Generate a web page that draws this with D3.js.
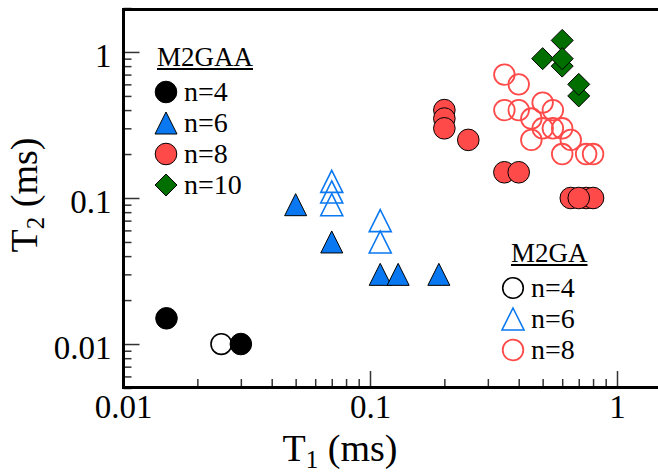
<!DOCTYPE html>
<html>
<head>
<meta charset="utf-8">
<script src="https://cdn.jsdelivr.net/npm/d3@7"></script>
<style>
html,body{margin:0;padding:0;background:#fff;}
svg{display:block;}
svg text{font-family:"Liberation Serif","Times New Roman",serif !important;}
</style>
</head>
<body>
<svg id="chart" width="658" height="474"></svg>
<script>
// ---- data ----
const xTickLabels = ["0.01", "0.1", "1"];
const yTickLabels = ["0.01", "0.1", "1"];
const xMajor = [0.01, 0.1, 1];
const yMajor = [0.01, 0.1, 1];

// M2GAA (filled)
const aa_n4_T1 = [0.015, 0.030];
const aa_n4_T2 = [0.015, 0.010];
const aa_n6_T1 = [0.05, 0.07, 0.11, 0.13, 0.19];
const aa_n6_T2 = [0.09, 0.05, 0.03, 0.03, 0.03];
const aa_n8_T1 = [0.2, 0.2, 0.2, 0.25, 0.35, 0.4, 0.65, 0.75, 0.8, 0.7];
const aa_n8_T2 = [0.4, 0.35, 0.3, 0.25, 0.15, 0.15, 0.1, 0.1, 0.1, 0.1];
const aa_n10_T1 = [0.5, 0.6, 0.6, 0.6, 0.7, 0.7];
const aa_n10_T2 = [0.9, 1.2, 0.8, 0.9, 0.5, 0.6];

// M2GA (open)
const ga_n4_T1 = [0.025];
const ga_n4_T2 = [0.010];
const ga_n6_T1 = [0.07, 0.07, 0.07, 0.11, 0.11];
const ga_n6_T2 = [0.13, 0.11, 0.09, 0.07, 0.05];
const ga_n8_T1 = [0.35, 0.4, 0.35, 0.4, 0.45, 0.5, 0.55, 0.5, 0.55, 0.6, 0.45, 0.65, 0.6, 0.75, 0.8];
const ga_n8_T2 = [0.7, 0.6, 0.4, 0.4, 0.35, 0.45, 0.4, 0.3, 0.3, 0.3, 0.25, 0.25, 0.2, 0.2, 0.2];

const legendAA = ["n=4", "n=6", "n=8", "n=10"];
const legendGA = ["n=4", "n=6", "n=8"];

// ---- colours ----
const RED = "#ff4a4a", BLUE = "#0a78f0", GREEN = "#006f00", BLACK = "#000";
const SERIF = "'Liberation Serif', 'Times New Roman', serif";

const svg = d3.select("#chart");
const x = d3.scaleLog().domain([0.01, 1.5]).range([123, 123 + 247 * Math.log10(150)]);
const y = d3.scaleLog().domain([0.005, 2]).range([388, 8]);

// minor tick values
const xMinor = [], yMinor = [];
[0.01, 0.1].forEach(d => { for (let k = 2; k <= 9; k++) xMinor.push(d * k); });
[0.001, 0.01, 0.1, 1].forEach(d => { for (let k = 2; k <= 9; k++) { const v = d * k; if (v >= 0.005 && v <= 2.0001) yMinor.push(v); } });

// axes
const gxMinor = svg.append("g").attr("transform", "translate(0,387)")
  .call(d3.axisBottom(x).tickValues(xMinor).tickSize(-8).tickFormat(""));
const gxMajor = svg.append("g").attr("transform", "translate(0,387)")
  .call(d3.axisBottom(x).tickValues(xMajor).tickSize(-16).tickPadding(26)
    .tickFormat((d, i) => xTickLabels[i]));
const gyMinor = svg.append("g").attr("transform", "translate(123.5,0)")
  .call(d3.axisLeft(y).tickValues(yMinor).tickSize(-8).tickFormat(""));
const gyMajor = svg.append("g").attr("transform", "translate(123.5,0)")
  .call(d3.axisLeft(y).tickValues(yMajor).tickSize(-16).tickPadding(12)
    .tickFormat((d, i) => yTickLabels[i]));

[gxMinor, gxMajor, gyMinor, gyMajor].forEach(g => {
  g.attr("font-family", SERIF);
  g.select(".domain").remove();
  g.selectAll(".tick line").attr("stroke", "#333").attr("stroke-width", 1.5);
  g.selectAll(".tick text").attr("fill", "#000").attr("font-family", SERIF)
    .style("font-size", "33px");
});
gyMajor.selectAll(".tick text").attr("dy", "0.45em");
gxMajor.selectAll(".tick text").attr("dy", "0.15em");

// frame: left, bottom, top
svg.append("line").attr("x1", 123.5).attr("x2", 123.5).attr("y1", 8).attr("y2", 388.5)
  .attr("stroke", "#000").attr("stroke-width", 3);
svg.append("line").attr("x1", 122).attr("x2", 658).attr("y1", 387.5).attr("y2", 387.5)
  .attr("stroke", "#000").attr("stroke-width", 3);
svg.append("line").attr("x1", 122).attr("x2", 658).attr("y1", 9.5).attr("y2", 9.5)
  .attr("stroke", "#000").attr("stroke-width", 3);

// axis titles
const xt = svg.append("text").attr("x", 340).attr("y", 461).attr("text-anchor", "middle")
  .attr("font-family", SERIF).style("font-size", "38px");
xt.append("tspan").text("T");
xt.append("tspan").attr("dy", 7).style("font-size", "25px").text("1");
xt.append("tspan").attr("dy", -7).text(" (ms)");

const yt = svg.append("text").attr("transform", "translate(37,195) rotate(-90)")
  .attr("text-anchor", "middle").attr("font-family", SERIF).style("font-size", "38px");
yt.append("tspan").text("T");
yt.append("tspan").attr("dy", 7).style("font-size", "25px").text("2");
yt.append("tspan").attr("dy", -7).text(" (ms)");

// marker shapes
const R = 11;
const triPath = `M0,${-R}L${R},${R}L${-R},${R}Z`;
const diaPath = `M0,${-R}L${R},0L0,${R}L${-R},0Z`;

function circles(xs, ys, fill, stroke, sw, r) {
  svg.append("g").selectAll("circle").data(d3.zip(xs, ys)).join("circle")
    .attr("cx", d => x(d[0])).attr("cy", d => y(d[1])).attr("r", r)
    .attr("fill", fill).attr("stroke", stroke).attr("stroke-width", sw);
}
function paths(xs, ys, p, fill, stroke, sw) {
  svg.append("g").selectAll("path").data(d3.zip(xs, ys)).join("path")
    .attr("d", p).attr("transform", d => `translate(${x(d[0])},${y(d[1])})`)
    .attr("fill", fill).attr("stroke", stroke).attr("stroke-width", sw)
    .attr("stroke-linejoin", "miter");
}

// open (M2GA)
circles(ga_n4_T1, ga_n4_T2, "#fff", BLACK, 1.6, 10.3);
paths(ga_n6_T1, ga_n6_T2, triPath, "none", BLUE, 1.6);
circles(ga_n8_T1, ga_n8_T2, "none", RED, 1.8, 10.3);
// filled (M2GAA)
circles(aa_n4_T1, aa_n4_T2, BLACK, BLACK, 1, 10.8);
paths(aa_n6_T1, aa_n6_T2, triPath, BLUE, BLACK, 1);
circles(aa_n8_T1, aa_n8_T2, RED, BLACK, 1, 10.8);
paths(aa_n10_T1, aa_n10_T2, diaPath, GREEN, BLACK, 1);

// legends
function legend(title, tx, ty, lx, items, markers) {
  const t = svg.append("text").attr("x", tx).attr("y", ty).attr("font-family", SERIF)
    .style("font-size", "27px").text(title);
  const w = t.node().getComputedTextLength();
  svg.append("line").attr("x1", tx).attr("x2", tx + w).attr("y1", ty + 3).attr("y2", ty + 3)
    .attr("stroke", "#000").attr("stroke-width", 2);
  const g = svg.append("g");
  items.forEach((lab, i) => {
    const cy = ty + 26 + i * 31;
    const m = markers[i];
    if (m.type === "circle") {
      g.append("circle").attr("cx", lx).attr("cy", cy).attr("r", m.r)
        .attr("fill", m.fill).attr("stroke", m.stroke).attr("stroke-width", m.sw);
    } else {
      g.append("path").attr("d", m.type === "tri" ? triPath : diaPath)
        .attr("transform", `translate(${lx},${cy})`)
        .attr("fill", m.fill).attr("stroke", m.stroke).attr("stroke-width", m.sw);
    }
    g.append("text").attr("x", lx + 18).attr("y", cy + 9).attr("font-family", SERIF)
      .style("font-size", "28px").text(lab);
  });
}
legend("M2GAA", 157, 66, 166, legendAA, [
  {type: "circle", fill: BLACK, stroke: BLACK, sw: 1, r: 10.8},
  {type: "tri", fill: BLUE, stroke: BLACK, sw: 1},
  {type: "circle", fill: RED, stroke: BLACK, sw: 1, r: 10.8},
  {type: "dia", fill: GREEN, stroke: BLACK, sw: 1}
]);
legend("M2GA", 511, 262, 513, legendGA, [
  {type: "circle", fill: "none", stroke: BLACK, sw: 1.6, r: 10.3},
  {type: "tri", fill: "none", stroke: BLUE, sw: 1.6},
  {type: "circle", fill: "none", stroke: RED, sw: 1.8, r: 10.3}
]);
</script>
</body>
</html>
